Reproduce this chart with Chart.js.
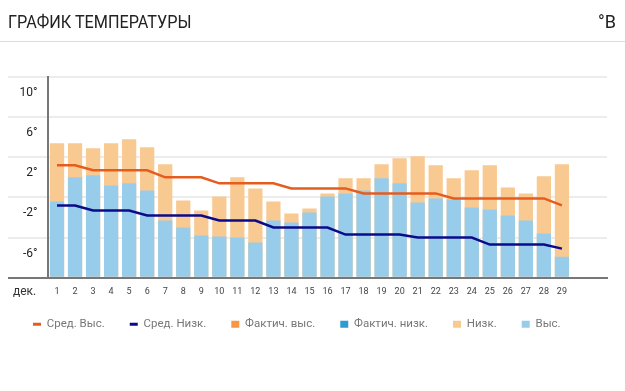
<!DOCTYPE html>
<html><head><meta charset="utf-8">
<script src="https://cdn.jsdelivr.net/npm/chart.js@4"></script>
<style>
html,body{margin:0;padding:0;background:#fff;}
body{width:625px;height:391px;position:relative;overflow:hidden;font-family:Roboto,sans-serif;}
#title{position:absolute;left:8px;top:11px;font-size:18px;line-height:21px;color:#222;white-space:nowrap;transform:scaleX(0.9);transform-origin:0 0;}
#unit{position:absolute;right:9px;top:11px;font-size:18px;line-height:21px;color:#222;}
#sep{position:absolute;left:0;top:41px;width:625px;height:1px;background:#dcdcdc;}
#wrap{position:absolute;left:0;top:0;width:625px;height:391px;}
</style></head><body>
<div id="wrap"><canvas id="c"></canvas></div>
<div id="title">ГРАФИК ТЕМПЕРАТУРЫ</div>
<div id="unit">°В</div>
<div id="sep"></div>
<script>
const monthLabel = 'дек.';
const dayLabels = ['1','2','3','4','5','6','7','8','9','10','11','12','13','14','15','16','17','18','19','20','21','22','23','24','25','26','27','28','29','',''];
const avgHigh = [1.2,1.2,0.7,0.7,0.7,0.7,0,0,0,-0.6,-0.6,-0.6,-0.6,-1.1,-1.1,-1.1,-1.1,-1.6,-1.6,-1.6,-1.6,-1.6,-2.1,-2.1,-2.1,-2.1,-2.1,-2.1,-2.8];
const avgLow = [-2.8,-2.8,-3.3,-3.3,-3.3,-3.8,-3.8,-3.8,-3.8,-4.3,-4.3,-4.3,-5.0,-5.0,-5.0,-5.0,-5.7,-5.7,-5.7,-5.7,-6.0,-6.0,-6.0,-6.0,-6.7,-6.7,-6.7,-6.7,-7.1];
const actualHigh = [];
const actualLow = [];
const barOrange = [3.4,3.4,2.9,3.4,3.8,3.0,1.3,-2.3,-3.3,-1.9,0.0,-1.1,-2.4,-3.6,-3.1,-1.6,-0.1,-0.1,1.3,1.9,2.1,1.2,-0.1,0.7,1.2,-1.0,-1.6,0.1,1.3];
const barBlue = [-2.4,0.0,0.2,-0.8,-0.6,-1.3,-4.3,-5.0,-5.8,-5.9,-6.0,-6.5,-4.3,-4.5,-3.5,-1.9,-1.6,-1.3,-0.1,-0.6,-2.5,-2.1,-2.2,-3.0,-3.2,-3.8,-4.3,-5.6,-7.9];
const yTicks = [10, 6, 2, -2, -6, -10];

Chart.defaults.font.family = 'Roboto';

const monthPlugin = {
  id: 'monthLabel',
  afterDraw(chart) {
    const {ctx, chartArea} = chart;
    ctx.save();
    ctx.font = '12px Roboto';
    ctx.fillStyle = '#333';
    ctx.textAlign = 'left';
    ctx.textBaseline = 'middle';
    ctx.fillText(monthLabel, 13, chartArea.bottom + 14);
    ctx.restore();
  }
};

const legendLift = 13;
const legendNudge = {
  id: 'legendNudge',
  afterLayout(chart) {
    const l = chart.legend;
    if (l) { l.top -= legendLift; l.bottom -= legendLift; }
  }
};

const barCommon = {type: 'bar', grouped: false, base: -10, barPercentage: 0.79, categoryPercentage: 1};

new Chart(document.getElementById('c'), {
  type: 'bar',
  data: {
    labels: dayLabels,
    datasets: [
      {type: 'line', label: 'Сред. Выс.', data: avgHigh, borderColor: '#e65c1e', backgroundColor: '#e65c1e', borderWidth: 2.5, pointRadius: 0, tension: 0, order: 0},
      {type: 'line', label: 'Сред. Низк.', data: avgLow, borderColor: '#0b0b8a', backgroundColor: '#0b0b8a', borderWidth: 2.5, pointRadius: 0, tension: 0, order: 0},
      Object.assign({label: 'Фактич. выс.', data: actualHigh, backgroundColor: '#f79646', order: 3}, barCommon),
      Object.assign({label: 'Фактич. низк.', data: actualLow, backgroundColor: '#2e9cd2', order: 3}, barCommon),
      Object.assign({label: 'Низк.', data: barOrange, backgroundColor: '#f9c992', order: 2}, barCommon),
      Object.assign({label: 'Выс.', data: barBlue, backgroundColor: '#97cdea', order: 1}, barCommon)
    ]
  },
  options: {
    responsive: true,
    maintainAspectRatio: false,
    animation: false,
    layout: {padding: {left: 8, right: 18, top: 77, bottom: 38}},
    plugins: {
      tooltip: {enabled: false},
      legend: {
        position: 'bottom',
        align: 'start',
        labels: {
          usePointStyle: true,
          pointStyleWidth: 8,
          boxHeight: 7,
          padding: 25,
          color: '#777',
          font: {size: 11.5},
          sort: (a, b) => a.datasetIndex - b.datasetIndex,
          generateLabels(chart) {
            const items = Chart.defaults.plugins.legend.labels.generateLabels(chart);
            items.forEach(it => {
              const ds = chart.data.datasets[it.datasetIndex];
              if (ds.type === 'line') {
                it.pointStyle = 'line';
                it.strokeStyle = ds.borderColor;
                it.fillStyle = ds.borderColor;
                it.lineWidth = 3;
              } else {
                it.pointStyle = 'rect';
                it.fillStyle = ds.backgroundColor;
                it.strokeStyle = ds.backgroundColor;
                it.lineWidth = 0;
              }
            });
            return items;
          }
        }
      }
    },
    scales: {
      x: {
        z: 1,
        grid: {display: false, drawTicks: false, tickLength: 0},
        border: {display: true, color: '#777', width: 2, z: 1},
        ticks: {autoSkip: false, maxRotation: 0, padding: 9, color: '#444', font: {size: 9}}
      },
      y: {
        min: -10,
        max: 10,
        afterBuildTicks(scale) { scale.ticks = yTicks.map(v => ({value: v})); },
        afterFit(scale) { scale.width = 40; },
        ticks: {
          callback: v => v === -10 ? '' : v + '°',
          labelOffset: 16,
          padding: -29.5,
          color: '#222',
          font: {size: 12}
        },
        grid: {
          color: ctx => (ctx.tick && ctx.tick.value === -10) ? '#777' : '#ececec',
          lineWidth: 2,
          drawTicks: true,
          tickLength: 40
        },
        border: {display: true, color: '#777', width: 2}
      }
    }
  },
  plugins: [monthPlugin, legendNudge]
});
</script>
</body></html>
